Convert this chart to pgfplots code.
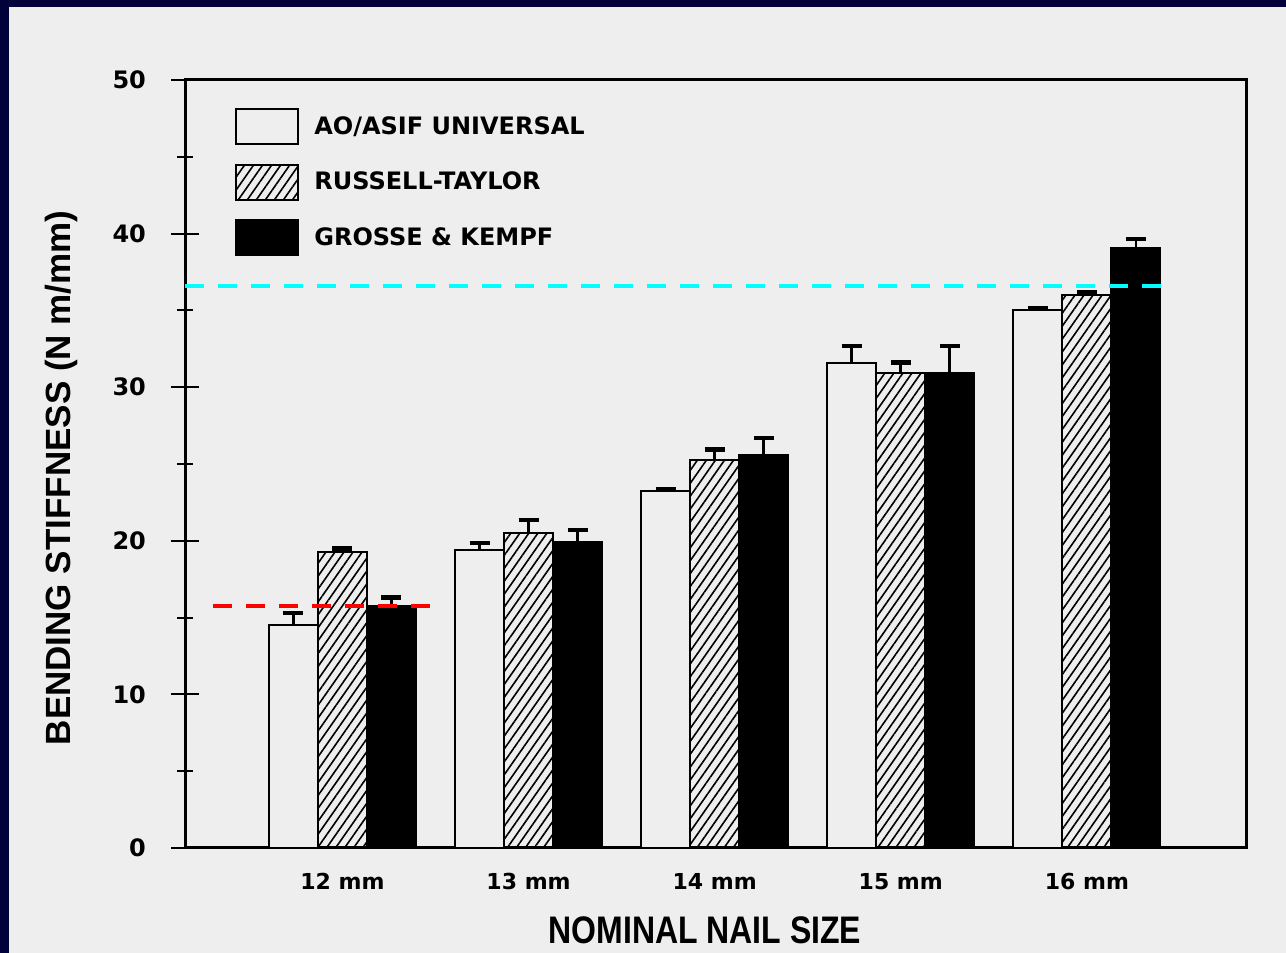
\documentclass[border=0pt]{standalone}
\usepackage{pgfplots}
\pgfplotsset{compat=1.18}
\usepackage{fontspec}
\setmainfont{Liberation Sans}
\newfontfamily\dejavu{DejaVu Sans}
\usetikzlibrary{patterns.meta}
\definecolor{navy}{RGB}{2,2,58}
\definecolor{bg}{RGB}{238,238,238}
\definecolor{cyanline}{RGB}{0,255,255}
\definecolor{redline}{RGB}{255,0,0}
\pgfplotsset{
  mylegend/.style={legend image code/.code={\draw[##1] (0pt,-8.75pt) rectangle (31pt,8.75pt);}},
  myerr/.style={error bars/.cd, y dir=plus, y explicit,
    error bar style={line width=1.3pt, black, solid},
    error mark options={rotate=90, line width=2.2pt, mark size=5pt, black, solid}},
}
\begin{document}
\begin{tikzpicture}
\fill[navy] (0,0) rectangle (643pt,476.5pt);
\fill[bg] (4.5pt,0) rectangle (643pt,473pt);
\begin{axis}[
  at={(92.5pt,52.5pt)}, anchor=south west,
  scale only axis, width=530.5pt, height=384pt,
  xmin=-0.846, xmax=4.855, ymin=0, ymax=50,
  xtick={0,1,2,3,4}, xticklabels={12 mm,13 mm,14 mm,15 mm,16 mm},
  ytick={0,10,...,50}, minor y tick num=1,
  ytick pos=left, xtick pos=bottom,
  xtick style={draw=none},
  tick align=center, major tick length=14pt, minor tick length=8pt,
  ytick style={line width=1pt, black},
  minor tick style={line width=1pt, black},
  axis line style={line width=1.5pt},
  /pgf/number format/assume math mode=true,
  yticklabel style={font=\dejavu\bfseries\fontsize{12}{12}\selectfont, xshift=-9pt},
  xticklabel style={font=\dejavu\bfseries\fontsize{11}{11}\selectfont, yshift=-2pt},
  xlabel={\scalebox{1}[1.2]{NOMINAL NAIL SIZE}},
  every axis x label/.style={at={(axis description cs:0.49,-0.107)}, anchor=center, font=\bfseries\fontsize{16}{16}\selectfont},
  ylabel={BENDING STIFFNESS (N m/mm)},
  every axis y label/.style={at={(axis description cs:-0.116,0.482)}, rotate=90, anchor=center, font=\bfseries\fontsize{17.5}{17.5}\selectfont},
  legend style={at={(axis description cs:0.0471,0.9635)}, anchor=north west, draw=none, fill=none,
    inner sep=0pt, row sep=9.2pt, column sep=7.5pt,
    font=\dejavu\bfseries\fontsize{12}{12}\selectfont,
    nodes={inner sep=0pt, anchor=west}},
  legend cell align=left,
]
% x positions: group index -/+ one bar width (24.5pt = 0.2633 units)
\addplot[ybar, bar width=24.5pt, bar shift=0pt, draw=black, line width=1pt, fill=bg, mylegend, myerr]
  coordinates {(-0.2633,14.5) +- (0,0.8) (0.7367,19.4) +- (0,0.45) (1.7367,23.25) +- (0,0.12) (2.7367,31.6) +- (0,1.1) (3.7367,35.0) +- (0,0.15)};
\addlegendentry{AO/ASIF UNIVERSAL}
\addplot[ybar, bar width=24.5pt, bar shift=0pt, draw=black, line width=1pt, pattern={Lines[angle=55,distance=3.7pt,line width=0.8pt]}, pattern color=black, mylegend, myerr]
  coordinates {(0,19.25) +- (0,0.25) (1,20.5) +- (0,0.85) (2,25.25) +- (0,0.7) (3,30.9) +- (0,0.7) (4,36.0) +- (0,0.2)};
\addlegendentry{RUSSELL-TAYLOR}
\addplot[ybar, bar width=24.5pt, bar shift=0pt, draw=black, line width=1pt, fill=black, mylegend, myerr]
  coordinates {(0.2633,15.75) +- (0,0.55) (1.2633,19.9) +- (0,0.8) (2.2633,25.6) +- (0,1.1) (3.2633,30.9) +- (0,1.8) (4.2633,39.05) +- (0,0.6)};
\addlegendentry{GROSSE \& KEMPF}
\addplot[sharp plot, no marks, redline, line width=2.4pt, dash pattern=on 9.5pt off 7pt, forget plot]
  coordinates {(-0.694,15.76) (0.544,15.76)};
\addplot[sharp plot, no marks, cyanline, line width=2.4pt, dash pattern=on 9.5pt off 7pt, forget plot]
  coordinates {(-0.846,36.59) (4.42,36.59)};
\end{axis}
\end{tikzpicture}
\end{document}
